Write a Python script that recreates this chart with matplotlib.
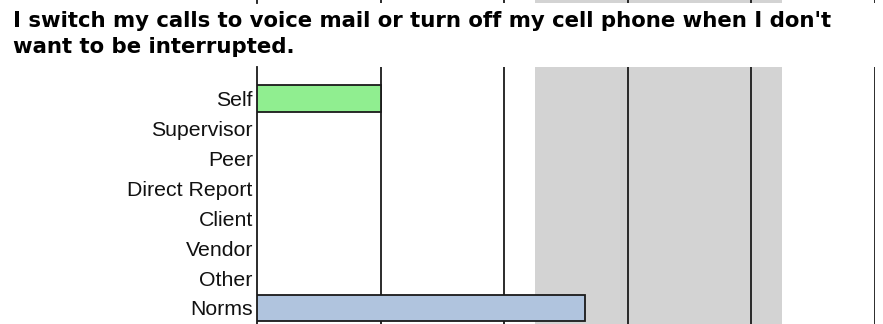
import matplotlib
matplotlib.use('Agg')
import matplotlib.pyplot as plt
import numpy as np

# Rater groups and their mean scores (blank groups have no responses)
categories = ['Self', 'Supervisor', 'Peer', 'Direct Report', 'Client', 'Vendor', 'Other', 'Norms']
scores = [1.0, np.nan, np.nan, np.nan, np.nan, np.nan, np.nan, 2.65]
bar_colors = ['#90EE90'] + ['#90EE90'] * 6 + ['#B0C4DE']
norm_band = (2.25, 4.25)
grid_values = [1, 2, 3, 4, 5]

title = ("I switch my calls to voice mail or turn off my cell phone when I don't\n"
         "want to be interrupted.")

W, H = 883, 324
fig = plt.figure(figsize=(W / 100, H / 100), dpi=100)
fig.patch.set_facecolor('white')


def px_rect(x0, y_top, x1, y_bot):
    return [x0 / W, 1 - y_bot / H, (x1 - x0) / W, (y_bot - y_top) / H]


def style_scale(ax):
    ax.set_xlim(0, 5)
    ax.axvspan(*norm_band, color='#D3D3D3', zorder=0, lw=0)
    for v in grid_values:
        ax.axvline(v, color='#1a1a1a', lw=1.3, zorder=1)
    for s in ['top', 'bottom', 'right']:
        ax.spines[s].set_visible(False)
    ax.spines['left'].set_color('#1a1a1a')
    ax.spines['left'].set_linewidth(1.3)
    ax.set_xticks([])


# bottom edge of the chart above this one
strip = fig.add_axes(px_rect(257, -1, 875, 3))
style_scale(strip)
strip.set_yticks([])
strip.set_ylim(0, 1)

ax = fig.add_axes(px_rect(257, 67, 875, 324))
style_scale(ax)
y = np.arange(len(categories))
ax.barh(y, scores, height=0.9, color=bar_colors, edgecolor='#1a1a1a',
        linewidth=1.3, zorder=3)
ax.set_ylim(7.535, -1.05)
ax.set_yticks(y)
ax.set_yticklabels(categories, fontsize=15.3, family='Liberation Sans', color='#111111')
ax.tick_params(axis='y', length=0, pad=3)

fig.text(13 / W, 1 - 11 / H, title, fontsize=15.3, fontweight='bold',
         family='DejaVu Sans', va='top', ha='left', linespacing=1.38, color='#000000')

fig.savefig('out.png', dpi=100, facecolor='white')
